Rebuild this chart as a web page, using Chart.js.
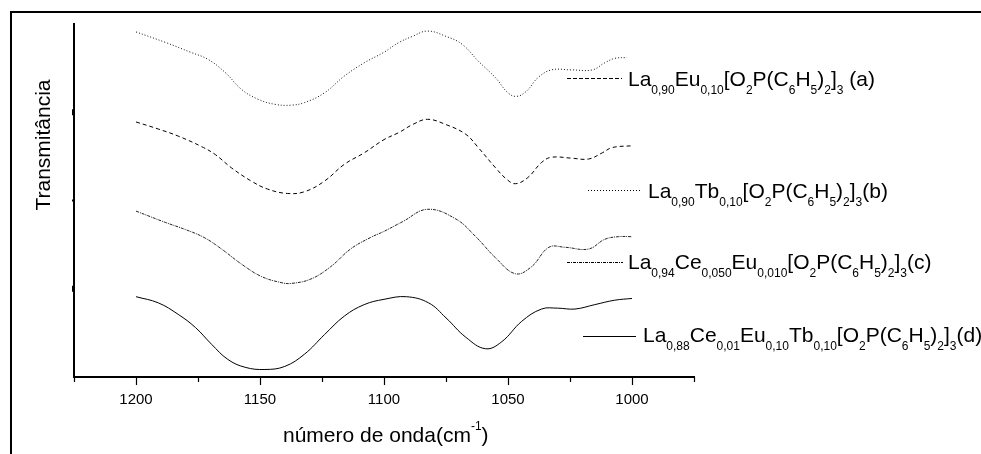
<!DOCTYPE html>
<html>
<head>
<meta charset="utf-8">
<script src="https://cdn.jsdelivr.net/npm/chart.js@4.4.1/dist/chart.umd.min.js"></script>
<style>
html,body{margin:0;padding:0;background:#fff;}
#wrap{position:relative;width:981px;height:454px;}
</style>
</head>
<body>
<div id="wrap"><canvas id="c" width="981" height="454"></canvas></div>
<script>
// ---- data (wavenumber in cm-1, transmittance in arbitrary offset units) ----
const wnA = [1200,1188,1178,1171,1164,1157.5,1151,1144,1137.5,1132,1124,1116,1108,1100,1094,1088.5,1082.5,1075,1068.5,1062,1055,1050,1046.5,1042.5,1038,1032.5,1024.5,1016,1011,1007,1002];
const tA  = [3.91,3.79,3.68,3.60,3.45,3.26,3.15,3.09,3.08,3.11,3.22,3.41,3.56,3.68,3.79,3.86,3.92,3.86,3.77,3.58,3.39,3.22,3.18,3.24,3.39,3.48,3.48,3.48,3.56,3.61,3.62];

const wnB = [1200,1191,1183,1173.5,1168,1161.5,1153.5,1147,1139,1132,1124,1116,1108,1100,1094,1088.5,1082.5,1075,1067,1062,1055,1050.5,1047,1042,1036.5,1032.5,1024.5,1017.5,1012,1008,1000];
const tB  = [2.89,2.81,2.73,2.61,2.52,2.37,2.22,2.13,2.08,2.10,2.22,2.41,2.54,2.69,2.77,2.86,2.92,2.86,2.75,2.60,2.37,2.24,2.19,2.26,2.43,2.49,2.48,2.47,2.54,2.60,2.62];

const wnC = [1200,1188,1180,1172.5,1165.5,1157.5,1149.5,1141.5,1137.5,1129.5,1121.5,1113.5,1105.5,1100,1092.5,1082.5,1071,1063,1055,1047,1040.5,1033.5,1027,1017.5,1011,1005.5,1000];
const tC  = [1.88,1.75,1.67,1.58,1.45,1.28,1.14,1.07,1.06,1.11,1.25,1.45,1.58,1.65,1.76,1.90,1.79,1.59,1.35,1.17,1.25,1.47,1.47,1.45,1.56,1.59,1.59];

const wnD = [1200,1191,1183,1176,1169.5,1163,1156,1148,1140,1132,1124,1116,1108,1100,1091,1082,1075,1067,1059,1052.5,1044.5,1036.5,1030,1023,1015,1007,1000];
const tD  = [0.91,0.84,0.71,0.56,0.37,0.20,0.11,0.085,0.12,0.26,0.48,0.69,0.82,0.88,0.91,0.84,0.67,0.45,0.32,0.40,0.63,0.77,0.78,0.77,0.82,0.87,0.89];

const seriesLabels = [
  'La_{0,90}Eu_{0,10}[O_{2}P(C_{6}H_{5})_{2}]_{3} (a)',
  'La_{0,90}Tb_{0,10}[O_{2}P(C_{6}H_{5})_{2}]_{3}(b)',
  'La_{0,94}Ce_{0,050}Eu_{0,010}[O_{2}P(C_{6}H_{5})_{2}]_{3}(c)',
  'La_{0,88}Ce_{0,01}Eu_{0,10}Tb_{0,10}[O_{2}P(C_{6}H_{5})_{2}]_{3}(d)'
];
const xMajorTicks = [1200,1150,1100,1050,1000];
const xMinorTicks = [1225,1175,1125,1075,1025,975];
const yTicks = [1,2,3];
const xTitle = 'número de onda(cm';
const xTitleSup = '-1';
const xTitleEnd = ')';
const yTitle = 'Transmitância';

// ---- styling ----
const FONT = '"Liberation Sans", Arial, Helvetica, sans-serif';
const pts = (xs, ys) => xs.map((x, i) => ({x: x, y: ys[i]}));

const curveStyles = [
  {dash:[1,2],     color:'#111'},
  {dash:[4,3],     color:'#000'},
  {dash:[3,1,1,1], color:'#222'},
  {dash:[],        color:'#000'}
];
const legendStyles = [
  {x1:567, x2:622, ly:78,  tx:628, base:86,  dash:[4,2]},
  {x1:588, x2:641, ly:190, tx:648, base:198, dash:[1,2]},
  {x1:567, x2:623, ly:262, tx:628, base:269, dash:[3,1,1,1]},
  {x1:583, x2:636, ly:336, tx:643, base:342, dash:[]}
];

const seriesData = [pts(wnA,tA), pts(wnB,tB), pts(wnC,tC), pts(wnD,tD)];

function drawRich(ctx, str, x, base, mainSize, subSize, subDy) {
  const re = /_\{([^}]*)\}/g;
  let last = 0, m;
  const parts = [];
  while ((m = re.exec(str)) !== null) {
    if (m.index > last) parts.push({t: str.slice(last, m.index), sub: false});
    parts.push({t: m[1], sub: true});
    last = re.lastIndex;
  }
  if (last < str.length) parts.push({t: str.slice(last), sub: false});
  ctx.textBaseline = 'alphabetic';
  ctx.textAlign = 'left';
  for (const p of parts) {
    ctx.font = (p.sub ? subSize : mainSize) + 'px ' + FONT;
    ctx.fillText(p.t, x, p.sub ? base + subDy : base);
    x += ctx.measureText(p.t).width;
  }
}

const decor = {
  id: 'decor',
  beforeDraw(chart) {
    const c = chart.ctx;
    c.save();
    c.fillStyle = '#fff';
    c.fillRect(0, 0, chart.width, chart.height);
    c.fillStyle = '#000';
    c.fillRect(10, 11, chart.width - 10, 2);
    c.fillRect(10, 11, 2, chart.height - 11);
    c.restore();
  },
  afterDraw(chart) {
    const c = chart.ctx;
    const xs = chart.scales.x, ys = chart.scales.y;
    const bottom = chart.chartArea.bottom;
    c.save();
    // minor x ticks
    c.strokeStyle = '#000';
    c.lineWidth = 1.2;
    for (const v of xMinorTicks) {
      const px = Math.round(xs.getPixelForValue(v)) + 0.5;
      c.beginPath(); c.moveTo(px, bottom); c.lineTo(px, bottom + 5); c.stroke();
    }
    // y tick marks
    c.fillStyle = '#000';
    for (const v of yTicks) {
      const py = ys.getPixelForValue(v);
      const h = v === 2 ? 2 : 6;
      c.fillRect(chart.chartArea.left - 2, py - h / 2, 2, h);
    }
    // x title
    c.fillStyle = '#000';
    c.textBaseline = 'alphabetic';
    c.textAlign = 'left';
    let x = 283;
    c.font = '21px ' + FONT;
    c.fillText(xTitle, x, 442);
    x += c.measureText(xTitle).width;
    c.font = '12px ' + FONT;
    c.fillText(xTitleSup, x, 430);
    x += c.measureText(xTitleSup).width;
    c.font = '21px ' + FONT;
    c.fillText(xTitleEnd, x, 442);
    // y title
    c.save();
    c.translate(50, 145);
    c.rotate(-Math.PI / 2);
    c.textAlign = 'center';
    c.font = '21px ' + FONT;
    c.fillText(yTitle, 0, 0);
    c.restore();
    // legend
    seriesLabels.forEach((lab, i) => {
      const L = legendStyles[i];
      c.strokeStyle = '#000';
      c.lineWidth = 1;
      c.setLineDash(L.dash);
      c.beginPath(); c.moveTo(L.x1, L.ly + 0.5); c.lineTo(L.x2, L.ly + 0.5); c.stroke();
      c.setLineDash([]);
      c.fillStyle = '#000';
      drawRich(c, lab, L.tx, L.base, 21, 12, 8);
    });
    c.restore();
  }
};

new Chart(document.getElementById('c'), {
  type: 'line',
  data: {
    datasets: seriesData.map((d, i) => ({
      label: seriesLabels[i].replace(/_\{([^}]*)\}/g, '$1'),
      data: d,
      borderColor: curveStyles[i].color,
      borderWidth: 1,
      borderDash: curveStyles[i].dash,
      pointRadius: 0,
      fill: false,
      tension: 0.4
    }))
  },
  options: {
    responsive: false,
    animation: false,
    events: [],
    layout: {padding: {left: 0, top: 24, right: 287, bottom: 0}},
    plugins: {legend: {display: false}, tooltip: {enabled: false}, title: {display: false}},
    scales: {
      x: {
        type: 'linear',
        reverse: true,
        min: 975,
        max: 1225,
        afterBuildTicks: s => { s.ticks = xMajorTicks.map(v => ({value: v})); },
        afterFit: s => { s.height = 77; },
        grid: {drawOnChartArea: false, drawTicks: true, tickLength: 8, tickColor: '#000', tickWidth: 1.2},
        border: {display: true, color: '#000', width: 2},
        ticks: {color: '#000', font: {family: FONT, size: 15}, padding: 6, maxRotation: 0, autoSkip: false,
                callback: v => String(v)}
      },
      y: {
        type: 'linear',
        min: 0,
        max: 4,
        afterBuildTicks: s => { s.ticks = yTicks.map(v => ({value: v})); },
        afterFit: s => { s.width = 74; },
        grid: {display: false, drawOnChartArea: false},
        border: {display: true, color: '#000', width: 2},
        ticks: {display: false}
      }
    }
  },
  plugins: [decor]
});
</script>
</body>
</html>
